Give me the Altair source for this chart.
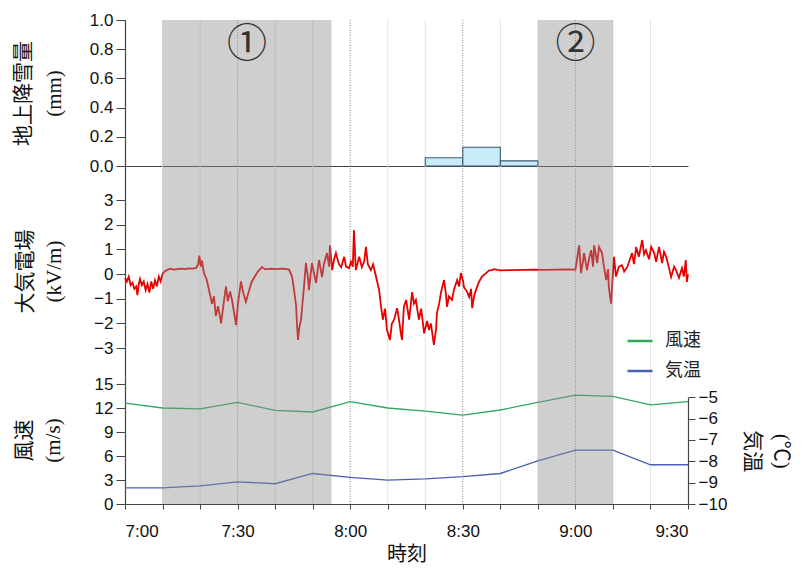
import altair as alt
import pandas as pd

# ---------------- data (time = minutes after 7:00) ----------------
tick_min = [0, 10, 20, 30, 40, 50, 60, 70, 80, 90, 100, 110, 120, 130, 140, 150]
grid10 = [10, 20, 40, 50, 70, 80, 100, 110, 130, 140]
grid30 = [30, 60, 90, 120]

# shaded periods (1) 7:10-7:55, (2) 8:50-9:10
shade_start = [10, 110]
shade_end = [55, 130]
shade_mid = [32.5, 120]
shade_label = ["①", "②"]
shade_label_y = [0.83, 0.83]

# ground snowfall (mm), 10-min totals
snow_start = [80, 90, 100]
snow_end = [90, 100, 110]
snow_mm = [0.057, 0.128, 0.035]

# atmospheric electric field (kV/m): (minute, value)
efield = [
    (0, -0.15), (0.5, -0.3), (1, -0.1), (1.5, -0.45), (2, -0.35), (2.5, -0.6), (3, -0.5),
    (3.3, -0.85), (3.7, -0.4), (4, -0.2), (4.5, -0.45), (5, -0.3), (5.5, -0.65), (6, -0.4),
    (6.5, -0.75), (7, -0.3), (7.5, -0.6), (8, -0.25), (8.5, -0.5), (9, -0.1), (9.5, -0.3), (10, 0.0),
    (10.5, 0.1), (11, 0.15), (12, 0.22), (13, 0.18), (14, 0.2), (15, 0.22), (16, 0.2), (17, 0.23),
    (18, 0.22), (19, 0.25), (19.5, 0.4), (19.8, 0.75), (20.2, 0.3), (20.5, 0.55), (21, 0.05),
    (21.8, -0.24), (22.6, -0.8), (23.2, -1.2), (23.7, -0.9), (24.2, -1.7), (24.8, -1.3), (25.6, -2.0),
    (26.1, -1.4), (26.9, -0.5), (27.4, -1.1), (28.0, -0.7), (28.5, -1.05), (29.0, -1.5), (29.6, -2.07),
    (30.1, -1.2), (30.9, -0.3), (31.4, -0.7), (32.2, -1.13), (33.0, -0.7), (33.8, -0.3), (34.6, -0.1),
    (35.4, 0.1), (36.5, 0.28), (37.3, 0.2),
    (38, 0.2), (39, 0.22), (40, 0.2), (41, 0.21), (42, 0.22), (43, 0.2), (43.7, 0.18),
    (44.5, -0.1), (45.0, -0.6), (45.6, -1.3), (45.8, -2.0), (46.1, -2.67), (46.4, -2.2), (46.9, -1.85),
    (47.4, -1.0), (47.7, -0.5), (48.2, 0.45), (48.8, -0.2), (49.0, -0.65), (49.8, 0.45), (50.4, 0.0),
    (50.9, -0.36), (51.7, 0.57), (52.5, -0.12), (53.0, 0.4), (53.8, 0.85), (54.4, 0.3), (54.6, 1.17),
    (55.2, 0.16), (55.7, 0.6), (56.2, 0.85), (57.0, 0.4), (57.6, 0.28), (58.4, 0.7), (58.9, 0.3),
    (59.7, 0.24), (60.2, 0.5), (60.7, 0.3), (61.0, 1.78), (61.5, 0.16), (62.4, 0.7), (63.1, 0.28),
    (63.7, 0.5), (64.2, 1.1), (64.7, 0.4), (65.5, 0.16), (66.1, 0.4), (66.9, -0.12), (67.7, -0.65),
    (68.2, -1.3), (68.7, -1.85), (69.3, -1.4), (69.8, -2.27), (70.6, -2.67), (71.1, -2.0), (71.7, -1.85),
    (72.5, -1.38), (73.0, -1.85), (73.5, -2.4), (73.8, -2.67), (74.3, -1.33), (74.9, -1.05), (75.7, -1.85),
    (76.5, -0.73), (77.0, -1.2), (77.5, -1.05), (78.3, -1.85), (78.9, -1.4), (79.7, -2.4), (80.5, -1.9),
    (81.0, -2.27), (81.5, -2.0), (82.3, -2.87), (82.9, -2.2), (83.1, -1.58), (83.7, -1.2), (84.2, -0.73),
    (85.0, -0.24), (85.5, -0.8), (85.8, -1.33), (86.3, -0.9), (87.1, -1.05), (87.7, -0.6), (88.5, -0.24),
    (89.0, -0.5), (89.5, 0.04), (90.1, -0.3), (90.3, -0.53), (91.1, -0.7), (91.7, -0.93), (92.2, -0.6),
    (92.5, -1.38), (93.0, -0.9), (93.5, -0.65), (94.3, -0.32), (95.1, -0.1), (96.2, 0.04), (97.0, 0.15),
    (97.8, 0.16), (98.3, 0.2),
    (100, 0.15), (103, 0.16), (106, 0.17), (109, 0.18), (112, 0.17), (115, 0.18), (118, 0.19), (120, 0.18),
    (120.4, 0.57), (121.0, 1.17), (121.5, 0.04), (122.0, 0.5), (122.3, 0.85), (123.1, 0.16), (123.6, 0.6),
    (124.2, 0.97), (124.7, 0.3), (125.0, 1.17), (125.8, 0.45), (126.3, 1.1), (127.1, 0.85), (127.6, 0.3),
    (128.2, -0.24), (128.7, 0.2), (128.9, -0.53), (129.5, -1.2), (129.8, -0.4), (130.3, 0.7), (130.8, -0.1),
    (131.1, 0.04), (131.6, 0.3), (132.4, 0.36), (133.0, 0.1), (133.8, 0.28), (134.3, 0.5), (135.1, 0.85),
    (135.6, 0.4), (136.2, 1.1), (136.9, 0.7), (137.8, 1.38), (138.3, 0.8), (138.8, 0.97), (139.6, 0.6),
    (140.2, 1.1), (141.0, 0.85), (141.5, 0.5), (142.3, 1.1), (143.1, 0.45), (143.6, 0.9), (144.2, 0.7),
    (145.0, 0.2), (145.5, -0.12), (146.3, 0.3), (146.8, 0.16), (147.6, -0.16), (148.1, 0.1), (148.4, 0.24),
    (148.9, -0.1), (149.4, 0.57), (149.7, -0.32), (150, 0.0),
]
ef_t = [p[0] for p in efield]
ef_v = [p[1] for p in efield]

# 10-min wind speed (m/s) and temperature (deg C)
met_min = [0, 10, 20, 30, 40, 50, 60, 70, 80, 90, 100, 110, 120, 130, 140, 150]
wind = [12.6, 12.0, 11.9, 12.7, 11.7, 11.5, 12.8, 12.0, 11.6, 11.1, 11.75, 12.7, 13.6, 13.45, 12.4, 12.8]
temp = [-9.24, -9.24, -9.15, -8.96, -9.05, -8.57, -8.75, -8.88, -8.82, -8.72, -8.57, -7.98, -7.48, -7.48, -8.16, -8.16]

# ---------------- styling ----------------
W = 563
NUM_FONT = "Liberation Sans"
JP_FONT = "Noto Sans CJK JP"
TITLE_FONT = "Liberation Serif, Noto Sans CJK JP"
AX = "#444444"
RED = "#e60000"
GREEN = "#2eaa5c"
BLUE = "#4a5fb5"
SHADE = "#8c8c8c"

grid10_df = pd.DataFrame({"t": grid10})
grid30_df = pd.DataFrame({"t": grid30})
shade_df = pd.DataFrame({"s": shade_start, "e": shade_end})
lab_df = pd.DataFrame({"t": shade_mid, "y": shade_label_y, "lab": shade_label})
snow_df = pd.DataFrame({"s": snow_start, "e": snow_end, "v": snow_mm})
ef_df = pd.DataFrame({"t": ef_t, "v": ef_v})
wind_df = pd.DataFrame({"t": met_min, "v": wind, "name": "風速"})
temp_df = pd.DataFrame({"t": met_min, "v": temp, "name": "気温"})

x_scale = alt.Scale(domain=[0, 150], nice=False, zero=False)

axis_common = dict(
    labelFont=NUM_FONT, labelFontSize=17, labelColor="#111111",
    labelPadding=3, tickColor=AX, domainColor=AX, domainWidth=1.2,
    grid=False, titleFont=TITLE_FONT, titleFontSize=21, titleFontWeight="normal",
    titleColor="#111111",
)


def layers_common(ax):
    g10 = alt.Chart(grid10_df).mark_rule(color="#e3e3e3", strokeWidth=1).encode(
        x=alt.X("t:Q", scale=x_scale, axis=ax))
    g30 = alt.Chart(grid30_df).mark_rule(color="#8a8a8a", strokeWidth=1, strokeDash=[1, 1.5]).encode(
        x=alt.X("t:Q", scale=x_scale, axis=ax))
    shade = alt.Chart(shade_df).mark_rect(color=SHADE, opacity=0.42).encode(
        x=alt.X("s:Q", scale=x_scale, axis=ax), x2="e:Q")
    return g10, g30, shade


# ---- panel 1: snowfall ----
ax1 = alt.Axis(values=[], domain=True, ticks=False, labels=False, grid=False, title=None,
               domainColor=AX, domainWidth=1.2)
y1_scale = alt.Scale(domain=[0, 1], nice=False)
y1_axis = alt.Axis(values=[0, 0.2, 0.4, 0.6, 0.8, 1.0], format=".1f", tickSize=9,
                   title=["地上降雪量", "(mm)"], titlePadding=25, titleLineHeight=31,
                   **axis_common)
g10, g30, shade = layers_common(ax1)
bars = alt.Chart(snow_df).mark_rect(color="#c8ebf9", stroke="#3c5a6e", strokeWidth=1.1).encode(
    x=alt.X("s:Q", scale=x_scale, axis=ax1), x2="e:Q",
    y=alt.Y("v:Q", scale=y1_scale, axis=y1_axis), y2=alt.datum(0))
labels = alt.Chart(lab_df).mark_text(font=JP_FONT, fontSize=40, color="#333333").encode(
    x=alt.X("t:Q", scale=x_scale, axis=ax1),
    y=alt.Y("y:Q", scale=y1_scale, axis=y1_axis),
    text="lab:N")
p1 = alt.layer(g10, g30, bars, shade, labels).properties(width=W, height=146)

# ---- panel 2: electric field ----
g10, g30, shade = layers_common(None)
efline = alt.Chart(ef_df).mark_line(color=RED, strokeWidth=1.8).encode(
    x=alt.X("t:Q", scale=x_scale, axis=None),
    y=alt.Y("v:Q", scale=alt.Scale(domain=[-4.13, 4.38], nice=False, zero=False),
            axis=alt.Axis(values=[-3, -2, -1, 0, 1, 2, 3], title=["大気電場", "(kV/m)"], tickSize=9,
                          titlePadding=29, titleLineHeight=29, **axis_common)))
p2 = alt.layer(g10, g30, efline, shade).properties(width=W, height=210)

# ---- panel 3: wind & temperature ----
ax3 = alt.Axis(values=tick_min, labelExpr=(
    "datum.value % 30 == 0 ? (7 + floor(datum.value / 60)) + ':' + "
    "(datum.value % 60 == 0 ? '00' : '30') : ''"),
    labelFont=NUM_FONT, labelFontSize=17, labelColor="#111111", tickSize=5, labelPadding=14,
    tickColor=AX, domainColor=AX, domainWidth=1.2, grid=False,
    title="時刻", titleFont=JP_FONT, titleFontSize=20, titleFontWeight="normal",
    titleColor="#111111", titlePadding=5)
g10, g30, shade = layers_common(ax3)
color = alt.Color("name:N", scale=alt.Scale(domain=["風速", "気温"], range=[GREEN, BLUE]),
                  legend=alt.Legend(orient="none", legendX=501, legendY=307, title=None,
                                    symbolType="stroke", symbolSize=625, symbolStrokeWidth=2.5,
                                    labelFont=JP_FONT, labelFontSize=18, labelColor="#222222",
                                    rowPadding=7, labelOffset=11, padding=0))
wline = alt.Chart(wind_df).mark_line(strokeWidth=1.3).encode(
    x=alt.X("t:Q", scale=x_scale, axis=ax3),
    y=alt.Y("v:Q", scale=alt.Scale(domain=[0, 16], nice=False),
            axis=alt.Axis(values=[0, 3, 6, 9, 12, 15], title=["風速", "(m/s)"], tickSize=9,
                          titlePadding=31, titleLineHeight=29, **axis_common)),
    color=color)
tline = alt.Chart(temp_df).mark_line(strokeWidth=1.3).encode(
    x=alt.X("t:Q", scale=x_scale, axis=ax3),
    y=alt.Y("v:Q", scale=alt.Scale(domain=[-10, -5], range=[128, 21.3], nice=False, zero=False),
            axis=alt.Axis(orient="right", values=[-10, -9, -8, -7, -6, -5], tickSize=7,
                          title=["(℃)", "気温"], titlePadding=15, titleLineHeight=29,
                          **axis_common)),
    color=color)
p3 = alt.layer(g10, g30, wline, tline, shade).resolve_scale(y="independent").properties(
    width=W, height=128)

chart = alt.vconcat(p1, p2, p3, spacing=0, bounds="flush").properties(
    padding={"left": 4, "top": 3, "right": 3, "bottom": 0}
).configure_view(stroke=None)

chart.save("out.html", embed_options={"renderer": "svg", "actions": False})
